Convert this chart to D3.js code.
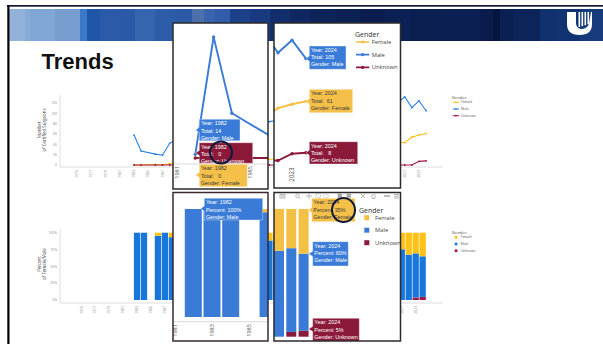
<!DOCTYPE html>
<html><head><meta charset="utf-8">
<script src="https://cdn.jsdelivr.net/npm/d3@7"></script>
<style>body{margin:0;background:#fff;overflow:hidden}svg{display:block}text{white-space:pre}</style>
</head><body><svg id="c" width="603" height="344"></svg>
<script>
// ---------------- DATA ----------------
const genders = ["Female", "Male", "Unknown"];
const years = [1983,1984,1986,1987,1988,1989,1990,1991,1992,1993,1994,1995,1996,1997,1998,1999,2000,2001,2002,2003,2004,2005,2006,2007,2008,2009,2010,2011,2012,2013,2014,2015,2016,2017,2018,2019,2020,2021,2022,2023,2024];
const female = [0,0,1,0,3,3,4,5,5,6,7,8,8,9,10,10,11,11,11,12,14,16,18,20,22,24,25,27,28,30,32,34,36,38,40,42,45,43,54,58,61];
const male = [58,27,21,19,42,50,55,60,58,64,66,70,68,72,75,78,80,82,84,86,90,92,95,97,100,103,106,108,110,112,115,114,118,120,122,121,120,132,111,124,105];
const unknown = [0,0,0,0,0,0,0,0,0,0,0,0,0,0,0,0,0,0,0,0,0,0,0,0,0,0,0,0,0,0,0,0,0,0,0,0,0,0,0,7,8];
const xTickYears = [1975,1977,1979,1981,1983,1985,1987,1989,1991,1993,1995,1997,1999,2001,2003,2005,2007,2009,2011,2013,2015,2017,2019,2021,2023];
const yTicksTotal = [0,20,40,60,80,100,120];
const yTicksPct = [0,25,50,75,100];
// zoomed detail view (early years, as shown in the left insets)
const detailYears = [1982,1983,1984,1986,1987];
const detailFemale = [0,0,0,0,0];
const detailMale = [3,100,37,19,30];
const detailUnknown = [0,0,0,0,0];
const detailPctYears = [1982,1983,1984,1986];
const detailPctFemale = [0,0,0,3];
const detailPctMale = [100,100,100,97];
const detailPctUnknown = [0,0,0,0];
const detailLineTicks = ["1981","1985"];
const detailBarTicks = ["1981","1983","1985"];
const detailTipTotals = {Male: 14, Unknown: 0, Female: 0};
const detailTipPctMale = 100;
const detailTipYear = 1982;
const lateTicks = ["2023"];

// ---------------- STYLE ----------------
const bgCol = {Female:"#fdc217", Male:"#2a80e3", Unknown:"#a31744"};
const bgBar = {Female:"#fdc217", Male:"#1877dc", Unknown:"#a31744"};
const inCol = {Female:"#f4bf45", Male:"#3a7bd8", Unknown:"#8b1a3a"};
const tipFill = {Female:"#f4c04a", Male:"#3a7bd8", Unknown:"#8b1a3a"};
const tipText = {Female:"#3a3a3a", Male:"#fff", Unknown:"#fff"};
const FONT = "'Open Sans', 'Liberation Sans', sans-serif";
const TIPFONT = "'Liberation Sans', Arial, sans-serif";

const svg = d3.select("#c");
const W = 603, H = 344;
svg.append("rect").attr("width", W).attr("height", H).attr("fill", "#fff");

// ---------------- SLIDE DECORATION ----------------
svg.append("rect").attr("x", 7).attr("y", 5).attr("width", W - 7).attr("height", 1.7).attr("fill", "#0f1a33");
const bannerStripes = [
  [9.3,"#92b2da"],[25,"#88aad6"],[30,"#80a6d5"],[55,"#789ed0"],[80,"#3a7ac8"],[87,"#1f56a6"],[100,"#2b5ba8"],
  [120,"#2a59a8"],[135,"#3565ae"],[155,"#2d5da9"],[175,"#2a5aa6"],[192,"#4d6faa"],[204,"#3a64ad"],[215,"#305caa"],
  [230,"#1c4189"],[250,"#193a80"],[270,"#122e6c"],[290,"#0f2862"],[310,"#0d245b"],[335,"#0b2053"],[360,"#0a1d4e"],
  [385,"#0b2053"],[410,"#0a1e50"],[440,"#0b1f52"],[480,"#0a1c4c"],[493,"#061640"],[500,"#0a1f52"],[513,"#0c245a"],
  [540,"#11306e"],[557,"#123372"],[580,"#163a7a"]
];
bannerStripes.forEach(([x0, c], i) => {
  const x1 = i < bannerStripes.length - 1 ? bannerStripes[i + 1][0] : W;
  svg.append("rect").attr("x", x0).attr("y", 9).attr("width", x1 - x0 + 0.6).attr("height", 32).attr("fill", c);
});
svg.append("rect").attr("x", 7.3).attr("y", 5).attr("width", 2.2).attr("height", H - 5).attr("fill", "#000");
// logo
const logo = svg.append("g");
logo.append("path").attr("d", "M567,12 H576 V23 Q576,28 581,29 Q587,29 589,24 L591,12 H592 V24 Q592,35 579.5,35 Q567,35 567,24 Z").attr("fill", "#fff");
[578.5, 581.5, 584.5, 587.5].forEach(x => logo.append("rect").attr("x", x).attr("y", 12).attr("width", 1.6).attr("height", 15 - (x - 578.5) * 0.3).attr("fill", "#fff"));

svg.append("text").attr("x", 41.5).attr("y", 68.5).attr("font-family", "'Liberation Sans', Arial, sans-serif")
  .attr("font-weight", "bold").attr("font-size", 22).attr("fill", "#111").text("Trends");

// ---------------- BACKGROUND CHARTS ----------------
const rows = years.map((y, i) => ({year: y, Female: female[i], Male: male[i], Unknown: unknown[i]}));
const detailRows = detailYears.map((y, i) => ({year: y, Female: detailFemale[i], Male: detailMale[i], Unknown: detailUnknown[i]}));
const pctRows = rows.map(r => {
  const t = r.Female + r.Male + r.Unknown;
  return {year: r.year, Female: r.Female / t * 100, Male: r.Male / t * 100, Unknown: r.Unknown / t * 100};
});
const detailPctRows = detailPctYears.map((y, i) => ({year: y, Female: detailPctFemale[i], Male: detailPctMale[i], Unknown: detailPctUnknown[i]}));
const stackOrder = ["Unknown", "Male", "Female"];
const stack = d3.stack().keys(stackOrder);

const axisCol = "#d4d4d4", tickCol = "#8a8a8a";
// top line chart
const xTop = d3.scaleLinear().domain([1975, 2023]).range([77, 419]);
const yTop = d3.scaleLinear().domain([0, 120]).range([165, 103]);
const gTop = svg.append("g");
gTop.append("line").attr("x1", 60).attr("x2", 60).attr("y1", 95).attr("y2", 167).attr("stroke", axisCol).attr("stroke-width", 0.8);
gTop.append("line").attr("x1", 60).attr("x2", 443).attr("y1", 167).attr("y2", 167).attr("stroke", axisCol).attr("stroke-width", 0.8);
gTop.selectAll(".yt").data(yTicksTotal).join("text").attr("x", 57).attr("y", d => yTop(d)).attr("dy", "0.35em")
  .attr("text-anchor", "end").attr("font-size", 3.4).attr("font-family", FONT).attr("fill", tickCol).text(d => d);
gTop.selectAll(".xt").data(xTickYears).join("text")
  .attr("transform", d => `translate(${xTop(d)},170) rotate(-90)`).attr("dy", "0.35em")
  .attr("text-anchor", "end").attr("font-size", 3.4).attr("font-family", FONT).attr("fill", tickCol).text(d => d);
const ttl = gTop.append("text").attr("transform", "translate(42,130) rotate(-90)").attr("text-anchor", "middle")
  .attr("font-size", 4.4).attr("font-family", FONT).attr("fill", "#444");
ttl.append("tspan").attr("x", 0).attr("dy", "-0.2em").text("Number");
ttl.append("tspan").attr("x", 0).attr("dy", "1.2em").text("of Certified Surgeons");
genders.forEach(g => {
  const line = d3.line().x(d => xTop(d.year)).y(d => yTop(d[g]));
  gTop.append("path").datum(rows).attr("d", line).attr("fill", "none").attr("stroke", bgCol[g]).attr("stroke-width", 1.1);
  gTop.selectAll(null).data(rows).join("circle").attr("cx", d => xTop(d.year)).attr("cy", d => yTop(d[g])).attr("r", 0.9).attr("fill", bgCol[g]);
});
const legT = svg.append("g").attr("font-family", FONT);
legT.append("text").attr("x", 451.7).attr("y", 98.8).attr("font-size", 4.3).attr("fill", "#444").text("Gender");
genders.forEach((g, i) => {
  const y = 102.3 + i * 6.7;
  legT.append("line").attr("x1", 452.7).attr("x2", 459).attr("y1", y).attr("y2", y).attr("stroke", bgCol[g]).attr("stroke-width", 1);
  legT.append("circle").attr("cx", 455.9).attr("cy", y).attr("r", 0.9).attr("fill", bgCol[g]);
  legT.append("text").attr("x", 461).attr("y", y).attr("dy", "0.35em").attr("font-size", 3.3).attr("fill", "#555").text(g);
});

// bottom percent bars
const xBot = d3.scaleLinear().domain([1975, 2023]).range([81.3, 415.7]);
const yBot = d3.scaleLinear().domain([0, 100]).range([300, 232.7]);
const gBot = svg.append("g");
gBot.append("line").attr("x1", 60).attr("x2", 60).attr("y1", 229).attr("y2", 303).attr("stroke", axisCol).attr("stroke-width", 0.8);
gBot.append("line").attr("x1", 60).attr("x2", 443).attr("y1", 303).attr("y2", 303).attr("stroke", axisCol).attr("stroke-width", 0.8);
gBot.selectAll(".yt").data(yTicksPct).join("text").attr("x", 57).attr("y", d => yBot(d)).attr("dy", "0.35em")
  .attr("text-anchor", "end").attr("font-size", 3.4).attr("font-family", FONT).attr("fill", tickCol).text(d => d + "%");
gBot.selectAll(".xt").data(xTickYears).join("text")
  .attr("transform", d => `translate(${xBot(d)},306) rotate(-90)`).attr("dy", "0.35em")
  .attr("text-anchor", "end").attr("font-size", 3.4).attr("font-family", FONT).attr("fill", tickCol).text(d => d);
const ttl2 = gBot.append("text").attr("transform", "translate(42,264) rotate(-90)").attr("text-anchor", "middle")
  .attr("font-size", 4.4).attr("font-family", FONT).attr("fill", "#444");
ttl2.append("tspan").attr("x", 0).attr("dy", "-0.2em").text("Percent");
ttl2.append("tspan").attr("x", 0).attr("dy", "1.2em").text("of Female/Male");
stack(pctRows).forEach(layer => {
  gBot.selectAll(null).data(layer).join("rect")
    .attr("x", d => xBot(d.data.year) - 3.15).attr("width", 6.3)
    .attr("y", d => yBot(d[1])).attr("height", d => yBot(d[0]) - yBot(d[1]))
    .attr("fill", bgBar[layer.key]);
});
const legB = svg.append("g").attr("font-family", FONT);
legB.append("text").attr("x", 451.7).attr("y", 234.3).attr("font-size", 4.3).attr("fill", "#444").text("Gender");
genders.forEach((g, i) => {
  const y = 237.3 + i * 6.7;
  legB.append("rect").attr("x", 454.7).attr("y", y - 1.35).attr("width", 2.7).attr("height", 2.7).attr("fill", bgBar[g]);
  legB.append("text").attr("x", 460.7).attr("y", y).attr("dy", "0.35em").attr("font-size", 3.3).attr("fill", "#555").text(g);
});

// ---------------- INSET PANELS ----------------
let clipId = 0;
function panel(x, y, w, h, stroke) {
  const id = "clip" + (clipId++);
  svg.append("clipPath").attr("id", id).append("rect").attr("x", x).attr("y", y).attr("width", w).attr("height", h);
  const outer = svg.append("g");
  outer.append("rect").attr("x", x).attr("y", y).attr("width", w).attr("height", h).attr("fill", "#fff");
  const inner = outer.append("g").attr("clip-path", `url(#${id})`);
  return {outer, inner, border: () => outer.append("rect").attr("x", x).attr("y", y).attr("width", w).attr("height", h)
    .attr("fill", "none").attr("stroke", stroke).attr("stroke-width", 1.5)};
}
function tooltip(g, x, y, w, h, key, lines, tipX, tipY) {
  const cy = tipY;
  g.append("path").attr("d", `M${x},${y} H${x + w} V${y + h} H${x} V${Math.min(cy + 2.6, y + h)} L${tipX},${cy} L${x},${Math.max(cy - 2.6, y)} Z`)
    .attr("fill", tipFill[key]).attr("stroke", "rgba(255,255,255,0.7)").attr("stroke-width", 0.5);
  lines.forEach((t, i) => {
    g.append("text").attr("x", x + 1.6).attr("y", y + 6.1 + i * 7.1).attr("font-size", 5.4).attr("font-family", TIPFONT)
      .attr("fill", tipText[key]).text(t);
  });
}
function ring(g, cx, cy, rx, ry) {
  g.append("ellipse").attr("cx", cx).attr("cy", cy).attr("rx", rx).attr("ry", ry).attr("fill", "none")
    .attr("stroke", "#0e1a3a").attr("stroke-width", 2);
}
function drawLines(g, data, xs, ys, width, r) {
  genders.forEach(k => {
    g.append("path").datum(data).attr("d", d3.line().x(d => xs(d.year)).y(d => ys(d[k])))
      .attr("fill", "none").attr("stroke", inCol[k]).attr("stroke-width", width);
    g.selectAll(null).data(data).join("circle").attr("cx", d => xs(d.year)).attr("cy", d => ys(d[k])).attr("r", r).attr("fill", inCol[k]);
  });
}

// Panel 1: early years, totals
{
  const p = panel(173, 23, 95, 166, "#2b2b2b");
  const x1 = d3.scaleLinear().domain([1981, 1986]).range([177, 268.5]);
  const y1 = d3.scaleLinear().domain([0, 100]).range([158, 37]);
  p.inner.append("line").attr("x1", 173).attr("x2", 268).attr("y1", 164).attr("y2", 164).attr("stroke", "#cfcfcf").attr("stroke-width", 0.8);
  p.inner.selectAll(".xt").data(detailLineTicks).join("text")
    .attr("transform", d => `translate(${x1(+d)},166) rotate(-90)`).attr("dy", "0.35em").attr("text-anchor", "end")
    .attr("font-size", 5.6).attr("font-family", FONT).attr("fill", "#555").text(d => d);
  drawLines(p.inner, detailRows, x1, y1, 1.9, 1.7);
  const yr = detailTipYear;
  tooltip(p.inner, 199.3, 119.3, 40.7, 21.4, "Male", [`Year: ${yr}`, `Total: ${detailTipTotals.Male}`, "Gender: Male"], 195.5, 130);
  tooltip(p.inner, 199.3, 142.7, 53.4, 20.6, "Unknown", [`Year: ${yr}`, `Total:   ${detailTipTotals.Unknown}`, "Gender: Unknown"], 195.5, 153);
  tooltip(p.inner, 199.3, 164.3, 48, 22.4, "Female", [`Year: ${yr}`, `Total:   ${detailTipTotals.Female}`, "Gender: Female"], 195.5, 175);
  ring(p.inner, 221, 152.5, 11, 11);
  p.border();
}

// Panel 2: late years, totals + legend
{
  const p = panel(274, 23, 126.5, 165, "#2b2b2b");
  const x2 = d3.scaleLinear().domain([2022, 2024]).range([278, 306]);
  const y2 = d3.scaleLinear().domain([0, 100]).range([160.5, 63.5]);
  p.inner.selectAll(".xt").data(lateTicks).join("text")
    .attr("transform", d => `translate(${x2(+d)},167.5) rotate(-90)`).attr("dy", "0.35em").attr("text-anchor", "end")
    .attr("font-size", 6.2).attr("font-family", FONT).attr("fill", "#555").text(d => d);
  drawLines(p.inner, rows, x2, y2, 1.9, 1.7);
  const last = rows[rows.length - 1];
  tooltip(p.inner, 309.3, 46, 36.7, 23.3, "Male", [`Year: ${last.year}`, `Total: ${last.Male}`, "Gender: Male"], 306, y2(last.Male));
  tooltip(p.inner, 309.3, 89.3, 43.4, 23.4, "Female", [`Year: ${last.year}`, `Total:  ${last.Female}`, "Gender: Female"], 306, y2(last.Female));
  tooltip(p.inner, 309.3, 141.7, 48.4, 22.3, "Unknown", [`Year: ${last.year}`, `Total:   ${last.Unknown}`, "Gender: Unknown"], 306, y2(last.Unknown));
  const lg = p.inner.append("g").attr("font-family", FONT);
  lg.append("text").attr("x", 355).attr("y", 36.5).attr("font-size", 7).attr("fill", "#333").text("Gender");
  genders.forEach((g, i) => {
    const y = 42 + i * 12.7;
    lg.append("line").attr("x1", 356).attr("x2", 369.3).attr("y1", y).attr("y2", y).attr("stroke", inCol[g]).attr("stroke-width", 1.7);
    lg.append("circle").attr("cx", 362.6).attr("cy", y).attr("r", 1.6).attr("fill", inCol[g]);
    lg.append("text").attr("x", 371.7).attr("y", y).attr("dy", "0.35em").attr("font-size", 5.8).attr("fill", "#444").text(g);
  });
  p.border();
}

// Panel 3: early years, percent bars
{
  const p = panel(173, 192.5, 95, 148.5, "#3a2a30");
  const x3 = d3.scaleLinear().domain([1982, 1986]).range([193.3, 268.1]);
  const y3 = d3.scaleLinear().domain([0, 100]).range([317, 209]);
  p.inner.append("line").attr("x1", 173).attr("x2", 268).attr("y1", 321.7).attr("y2", 321.7).attr("stroke", "#cfcfcf").attr("stroke-width", 0.8);
  p.inner.selectAll(".xt").data(detailBarTicks).join("text")
    .attr("transform", d => `translate(${x3(+d)},324) rotate(-90)`).attr("dy", "0.35em").attr("text-anchor", "end")
    .attr("font-size", 5.6).attr("font-family", FONT).attr("fill", "#555").text(d => d);
  stack(detailPctRows).forEach(layer => {
    p.inner.selectAll(null).data(layer).join("rect")
      .attr("x", d => x3(d.data.year) - 8.5).attr("width", 17)
      .attr("y", d => y3(d[1])).attr("height", d => y3(d[0]) - y3(d[1]))
      .attr("fill", inCol[layer.key]);
  });
  tooltip(p.inner, 204.3, 198.3, 58.4, 21.7, "Male", [`Year: ${detailTipYear}`, `Percent: ${detailTipPctMale}%`, "Gender: Male"], 200.8, 208.5);
  p.border();
}

// Panel 4: late years, percent bars + legend + modebar
{
  const p = panel(274, 192.5, 126.5, 148.5, "#2b2b2b");
  const x4 = d3.scaleLinear().domain([2022, 2024]).range([279, 303.6]);
  const y4 = d3.scaleLinear().domain([0, 100]).range([336.7, 209]);
  stack(pctRows).forEach(layer => {
    p.inner.selectAll(null).data(layer).join("rect")
      .attr("x", d => x4(d.data.year) - 5).attr("width", 10)
      .attr("y", d => y4(d[1])).attr("height", d => y4(d[0]) - y4(d[1]))
      .attr("fill", inCol[layer.key]);
  });
  // modebar icons
  const mb = p.inner.append("g").attr("stroke", "#a9a9a9").attr("fill", "none").attr("stroke-width", 0.8);
  mb.append("rect").attr("x", 280).attr("y", 194.5).attr("width", 5).attr("height", 3.5);
  mb.append("circle").attr("cx", 282.5).attr("cy", 196.2).attr("r", 1);
  mb.append("circle").attr("cx", 297.5).attr("cy", 195.8).attr("r", 1.8);
  mb.append("line").attr("x1", 298.8).attr("y1", 197.1).attr("x2", 300.5).attr("y2", 198.8);
  mb.append("path").attr("d", "M306,196 H312 M309,193 V199");
  mb.append("rect").attr("x", 316).attr("y", 193.8).attr("width", 4.5).attr("height", 4).attr("stroke-dasharray", "1,0.8");
  mb.append("ellipse").attr("cx", 326).attr("cy", 196).attr("rx", 2.5).attr("ry", 1.8).attr("stroke-dasharray", "1,0.8");
  mb.append("rect").attr("x", 338).attr("y", 194).attr("width", 3.5).attr("height", 3.5).attr("fill", "#a9a9a9");
  mb.append("rect").attr("x", 347).attr("y", 194).attr("width", 3.5).attr("height", 3.5).attr("fill", "#a9a9a9");
  mb.append("path").attr("d", "M361,194 L365,198 M365,194 L361,198");
  mb.append("path").attr("d", "M371,196.5 L373.5,194 L376,196.5 M372,196 V198.5 H375 V196");
  mb.append("path").attr("d", "M384,196 H390").attr("stroke-width", 1.4);
  mb.append("path").attr("d", "M394,194.5 H399 M394,196.3 H399 M394,198.1 H399").attr("stroke-width", 0.9);
  const last = pctRows[pctRows.length - 1];
  const yr = last.year;
  tooltip(p.inner, 311.7, 198.3, 43.3, 23.4, "Female", [`Year: ${yr}`, `Percent: ${Math.round(last.Female)}%`, "Gender: Female"], 308.6, 210);
  tooltip(p.inner, 312.7, 241.7, 35.6, 24.3, "Male", [`Year: ${yr}`, `Percent: ${Math.round(last.Male)}%`, "Gender: Male"], 308.6, 253.8);
  tooltip(p.inner, 312.7, 318.3, 46.6, 23, "Unknown", [`Year: ${yr}`, `Percent: ${Math.round(last.Unknown)}%`, "Gender: Unknown"], 308.6, 329);
  const lg = p.inner.append("g").attr("font-family", FONT);
  lg.append("text").attr("x", 359).attr("y", 212.5).attr("font-size", 7).attr("fill", "#333").text("Gender");
  genders.forEach((g, i) => {
    const y = 217.7 + i * 12.5;
    lg.append("rect").attr("x", 364.3).attr("y", y - 2.5).attr("width", 5).attr("height", 5).attr("fill", inCol[g]);
    lg.append("text").attr("x", 375).attr("y", y).attr("dy", "0.35em").attr("font-size", 5.8).attr("fill", "#444").text(g);
  });
  ring(p.inner, 343.5, 210, 11.5, 12);
  p.border();
}
</script></body></html>
